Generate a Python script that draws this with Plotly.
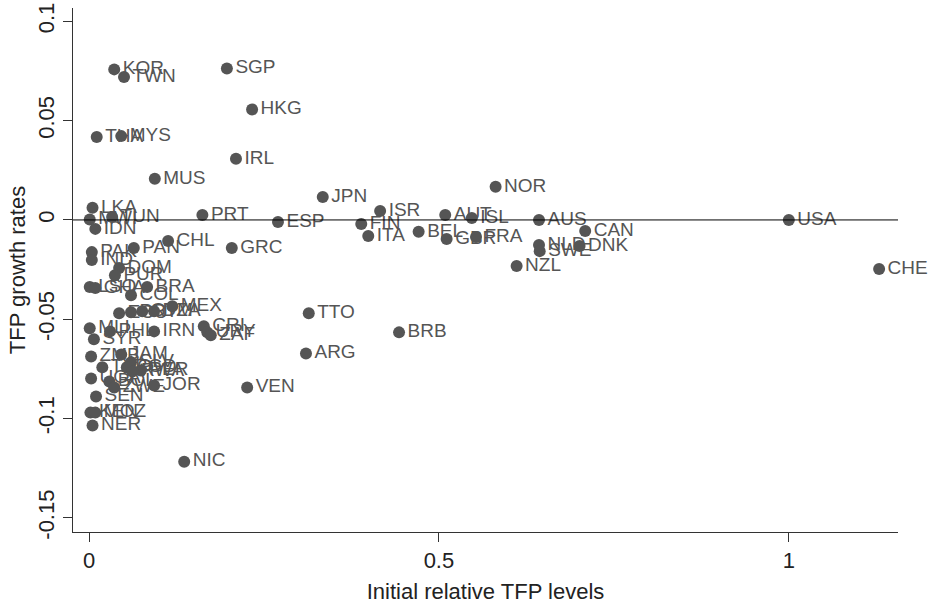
import plotly.graph_objects as go

codes = ["KOR","TWN","SGP","HKG","THA","MYS","IRL","MUS","JPN","NOR",
         "LKA","MWI","TUN","IDN","PRT","ESP","ISR","FIN","ITA","AUT",
         "ISL","BEL","GBR","FRA","AUS","CAN","NLD","SWE","DNK","NZL",
         "USA","CHE","GRC","CHL","PAN","PAK","IND","DOM","PUR","LSO",
         "GHA","BRA","COL","ECU","PRY","GTM","DZA","MEX","MLI","PHL",
         "IRN","CRI","URY","ZAF","SYR","ZMB","JAM","SLV","TGO","BGD",
         "PER","RWA","UGA","BOL","ZWE","JOR","SEN","KEN","MOZ","NER",
         "NIC","VEN","ARG","TTO","BRB"]

tfp_level = [0.036,0.050,0.197,0.233,0.011,0.046,0.210,0.094,0.334,0.581,
             0.005,0.001,0.033,0.009,0.162,0.270,0.416,0.389,0.399,0.509,
             0.547,0.471,0.511,0.553,0.643,0.709,0.643,0.644,0.701,0.611,
             1.000,1.129,0.204,0.113,0.064,0.004,0.004,0.043,0.037,0.001,
             0.009,0.083,0.060,0.043,0.060,0.076,0.093,0.119,0.001,0.030,
             0.093,0.164,0.169,0.174,0.007,0.003,0.046,0.060,0.019,0.054,
             0.074,0.062,0.003,0.029,0.036,0.093,0.010,0.002,0.009,0.005,
             0.136,0.226,0.310,0.314,0.443]

tfp_growth = [0.0758,0.0720,0.0763,0.0556,0.0417,0.0422,0.0308,0.0207,0.0116,0.0167,
              0.0061,0.0002,0.0015,-0.0045,0.0025,-0.0010,0.0045,-0.0020,-0.0081,0.0025,
              0.0010,-0.0060,-0.0096,-0.0086,0.0000,-0.0056,-0.0126,-0.0157,-0.0131,-0.0232,
              0.0000,-0.0247,-0.0141,-0.0106,-0.0141,-0.0162,-0.0202,-0.0242,-0.0278,-0.0338,
              -0.0343,-0.0338,-0.0379,-0.0470,-0.0465,-0.0460,-0.0460,-0.0434,-0.0545,-0.0561,
              -0.0561,-0.0535,-0.0566,-0.0581,-0.0601,-0.0687,-0.0677,-0.0717,-0.0742,-0.0742,
              -0.0758,-0.0763,-0.0798,-0.0813,-0.0843,-0.0833,-0.0889,-0.0970,-0.0970,-0.1035,
              -0.1217,-0.0843,-0.0672,-0.0470,-0.0566]

x_ticks = [0, 0.5, 1]
x_tick_labels = ["0", "0.5", "1"]
y_ticks = [-0.15, -0.1, -0.05, 0, 0.05, 0.1]
y_tick_labels = ["-0.15", "-0.1", "-0.05", "0", "0.05", "0.1"]

GRAY = "#555555"
AX = "#333333"
FONT = "Liberation Sans, Arial, sans-serif"

fig = go.Figure()
fig.add_trace(go.Scatter(
    x=tfp_level, y=tfp_growth, text=codes,
    mode="markers+text", textposition="middle right",
    marker=dict(size=12, color=GRAY, line=dict(width=0)),
    textfont=dict(family=FONT, size=19, color=GRAY),
    cliponaxis=False, hoverinfo="text",
))

fig.add_hline(y=0, line=dict(color="black", width=1))

fig.update_layout(
    width=934, height=606,
    margin=dict(l=73, r=36, t=8, b=74),
    paper_bgcolor="white", plot_bgcolor="white",
    showlegend=False,
    font=dict(family=FONT, color="#222222"),
    xaxis=dict(
        range=[-0.0229, 1.156], tickvals=x_ticks, ticktext=x_tick_labels,
        automargin=False,
        showgrid=False, zeroline=False, showline=True, linecolor=AX, linewidth=1,
        ticks="outside", ticklen=9, tickcolor=AX,
        tickfont=dict(family=FONT, size=22, color="#222222"),
        title=dict(text="Initial relative TFP levels", font=dict(family=FONT, size=22, color="#222222"), standoff=11),
    ),
    yaxis=dict(
        range=[-0.1571, 0.1067], tickvals=y_ticks, ticktext=y_tick_labels,
        automargin=False,
        showgrid=False, zeroline=False, showline=True, linecolor=AX, linewidth=1,
        ticks="outside", ticklen=9, tickcolor=AX, tickangle=-90,
        tickfont=dict(family=FONT, size=22, color="#222222"),
        title=dict(text="TFP growth rates", font=dict(family=FONT, size=22, color="#222222"), standoff=2),
    ),
)

fig.write_html("out.html", config={"displayModeBar": False},
               post_script="document.body.style.margin='0';document.body.style.overflow='hidden';")
